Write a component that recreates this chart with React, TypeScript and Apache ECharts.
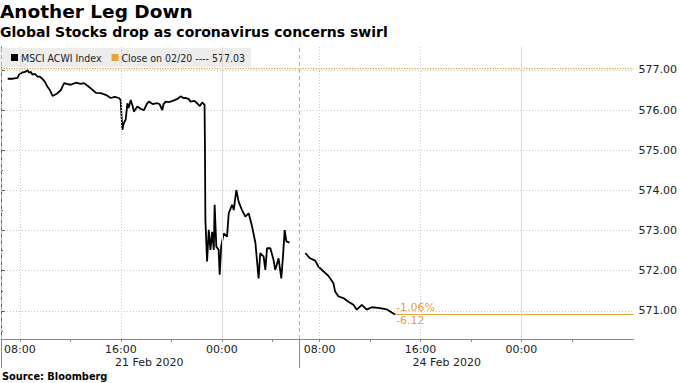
import React, { useEffect, useRef } from "react";
import * as echarts from "echarts";

const TITLE = "Another Leg Down";
const SUBTITLE = "Global Stocks drop as coronavirus concerns swirl";
const SOURCE = "Source: Bloomberg";
const SERIES_NAME = "MSCI ACWI Index";
const PREV_CLOSE = 577.03;
const CLOSE_NAME = "Close on 02/20 ---- 577.03";

// Session 1: 21 Feb 2020 (continues past midnight)
const s1Times = [
  "02-21 07:02", "02-21 07:27", "02-21 07:49", "02-21 07:55", "02-21 08:10", "02-21 08:24",
  "02-21 08:37", "02-21 08:43", "02-21 08:52", "02-21 09:00", "02-21 09:11", "02-21 09:24",
  "02-21 09:35", "02-21 09:48", "02-21 09:59", "02-21 10:11", "02-21 10:22", "02-21 10:35",
  "02-21 10:46", "02-21 10:59", "02-21 11:15", "02-21 11:24", "02-21 11:30", "02-21 11:43",
  "02-21 12:02", "02-21 12:26", "02-21 12:49", "02-21 13:05", "02-21 13:23", "02-21 13:37",
  "02-21 14:01", "02-21 14:24", "02-21 14:48", "02-21 15:12", "02-21 15:31", "02-21 15:51",
  "02-21 15:59", "02-21 16:07", "02-21 16:13", "02-21 16:23", "02-21 16:31", "02-21 16:37",
  "02-21 16:47", "02-21 16:56", "02-21 17:02", "02-21 17:18", "02-21 17:34", "02-21 17:50",
  "02-21 18:03", "02-21 18:13", "02-21 18:31", "02-21 18:53", "02-21 19:04", "02-21 19:17",
  "02-21 19:23", "02-21 19:33", "02-21 19:52", "02-21 20:12", "02-21 20:30", "02-21 20:44",
  "02-21 20:58", "02-21 21:08", "02-21 21:22", "02-21 21:31", "02-21 21:50", "02-21 22:03",
  "02-21 22:15", "02-21 22:27", "02-21 22:38", "02-21 22:40", "02-21 22:42", "02-21 22:50",
  "02-21 22:58", "02-21 23:06", "02-21 23:14", "02-21 23:22", "02-21 23:26", "02-21 23:34",
  "02-21 23:45", "02-21 23:50", "02-21 23:57", "02-22 00:09", "02-22 00:25", "02-22 00:33",
  "02-22 00:49", "02-22 00:57", "02-22 01:09", "02-22 01:20", "02-22 01:36", "02-22 01:52",
  "02-22 02:08", "02-22 02:24", "02-22 02:40", "02-22 02:55", "02-22 03:03", "02-22 03:19",
  "02-22 03:27", "02-22 03:35", "02-22 03:51", "02-22 04:06", "02-22 04:14", "02-22 04:30",
  "02-22 04:43", "02-22 04:51", "02-22 04:59", "02-22 05:07", "02-22 05:22",
];
const s1Values = [
  576.78, 576.78, 576.8, 576.88, 576.93, 576.95,
  576.99, 576.93, 576.95, 576.88, 576.9, 576.83,
  576.83, 576.77, 576.7, 576.58, 576.5, 576.35,
  576.38, 576.42, 576.5, 576.6, 576.67, 576.65,
  576.63, 576.68, 576.65, 576.67, 576.6, 576.54,
  576.43, 576.42, 576.38, 576.3, 576.33, 576.3,
  576.25, 575.51, 575.66, 575.76, 576.17, 576.05,
  576.25, 576.1, 575.96, 576.09, 576.03, 576.0,
  576.15, 576.21, 576.15, 576.17, 576.15, 576.0,
  576.15, 576.21, 576.2, 576.24, 576.28, 576.34,
  576.3, 576.3, 576.28, 576.21, 576.23, 576.17,
  576.1, 576.19, 576.13, 575.01, 573.27, 572.23,
  573.02, 572.52, 572.97, 572.52, 573.64, 572.6,
  572.52, 571.9, 572.6, 572.93, 572.85, 573.43,
  573.64, 573.51, 574.01, 573.72, 573.51, 573.35,
  573.43, 573.1, 572.69, 571.81, 572.44, 572.35,
  572.02, 572.56, 572.56, 572.27, 572.02, 572.31,
  571.81, 572.35, 573.01, 572.73, 572.7,
];

// Session 2: 24 Feb 2020
const s2Times = [
  "02-24 06:52", "02-24 07:15", "02-24 07:39", "02-24 07:55", "02-24 08:19", "02-24 08:42",
  "02-24 08:50", "02-24 09:06", "02-24 09:14", "02-24 09:30", "02-24 09:53", "02-24 10:17",
  "02-24 10:41", "02-24 10:57", "02-24 11:21", "02-24 11:44", "02-24 12:08", "02-24 12:48",
  "02-24 13:19", "02-24 13:43", "02-24 13:59",
];
const s2Values = [
  572.44, 572.31, 572.25, 572.1, 571.98, 571.87,
  571.81, 571.69, 571.48, 571.36, 571.32, 571.23,
  571.15, 571.03, 571.15, 571.03, 571.09, 571.07,
  571.04, 570.96, 570.91,
];

const yLabelValues = [571, 572, 573, 574, 575, 576, 577];
const yMinorValues = [570.5, 571.5, 572.5, 573.5, 574.5, 575.5, 576.5, 577.5];
const Y_MIN = 570.3;
const Y_MAX = 577.57;

const xLabelTimes = ["02-21 08:00", "02-21 16:00", "02-22 00:00", "02-24 08:00", "02-24 16:00", "02-25 00:00"];
const xLabelTexts = ["08:00", "16:00", "00:00", "08:00", "16:00", "00:00"];
const xTickTimes = [
  "02-21 08:00", "02-21 12:00", "02-21 16:00", "02-21 20:00", "02-22 00:00", "02-22 04:00",
  "02-24 08:00", "02-24 12:00", "02-24 16:00", "02-24 20:00", "02-25 00:00", "02-25 04:00",
];
const dateLabelTimes = ["02-21 18:15", "02-24 18:05"];
const dateLabelTexts = ["21 Feb 2020", "24 Feb 2020"];
const dottedGridTimes = ["02-21 08:00", "02-21 16:00", "02-24 08:00", "02-24 16:00"];
const midnightGridTimes = ["02-22 00:00", "02-25 00:00"];
const sessionStartTimes = ["02-21 06:30", "02-24 06:21"];
const AXIS_END = "02-25 08:53";

// trading-time axis: weekend removed
const S1_START = Date.UTC(2020, 1, 21, 6, 30);
const S1_END = Date.UTC(2020, 1, 22, 6, 6);
const S2_START = Date.UTC(2020, 1, 24, 6, 21);
const H = 3600e3;
function toAxis(t: string): number {
  const [md, hm] = t.split(" ");
  const [mo, d] = md.split("-").map(Number);
  const [h, m] = hm.split(":").map(Number);
  const ms = Date.UTC(2020, mo - 1, d, h, m);
  if (ms < Date.UTC(2020, 1, 23)) return (ms - S1_START) / H;
  return (S1_END - S1_START) / H + (ms - S2_START) / H;
}

const FONT = "DejaVu Sans";
const LEGEND_FONT = "'DejaVu Sans Condensed', 'Liberation Sans Narrow', 'DejaVu Sans'";
const ORANGE = "#e6a23c";

export default function App() {
  const ref = useRef<HTMLDivElement>(null);
  useEffect(() => {
    if (!ref.current) return;
    const chart = echarts.init(ref.current, undefined, { renderer: "svg" });
    const xMax = toAxis(AXIS_END);
    const lastV = s2Values[s2Values.length - 1];
    const lastT = toAxis(s2Times[s2Times.length - 1]);
    const chg = lastV - PREV_CLOSE;
    const pct = (chg / PREV_CLOSE) * 100;

    const mainData: any[] = [];
    s1Times.forEach((t, i) => mainData.push([toAxis(t), s1Values[i]]));
    mainData.push([toAxis(s1Times[s1Times.length - 1]) + 0.5, "-"]);
    s2Times.forEach((t, i) => mainData.push([toAxis(t), s2Values[i]]));

    const labelVals = xLabelTimes.map(toAxis);
    const dateVals = dateLabelTimes.map(toAxis);
    const near = (arr: number[], v: number) => arr.findIndex((a) => Math.abs(a - v) < 1e-6);

    const vLines: any[] = [];
    dottedGridTimes.forEach((t) =>
      vLines.push({ xAxis: toAxis(t), lineStyle: { type: [1, 2], color: "#c8c8c8", width: 1 } })
    );
    midnightGridTimes.forEach((t) =>
      vLines.push({ xAxis: toAxis(t), lineStyle: { type: "solid", color: "#dcdcdc", width: 1 } })
    );
    sessionStartTimes.forEach((t) =>
      vLines.push({ xAxis: toAxis(t), lineStyle: { type: [4, 3], color: "#b0b0b0", width: 1 } })
    );

    chart.setOption({
      animation: false,
      backgroundColor: "#fff",
      textStyle: { fontFamily: FONT },
      title: [
        { text: TITLE, left: 0, top: 2, padding: 0, textStyle: { fontFamily: FONT, fontWeight: "bold", fontSize: 18.5, color: "#000" } },
        { text: SUBTITLE, left: 0, top: 25, padding: 0, textStyle: { fontFamily: FONT, fontWeight: "bold", fontSize: 14, color: "#000" } },
        { text: SOURCE, left: 2, top: 371, padding: 0, textStyle: { fontFamily: FONT, fontWeight: "bold", fontSize: 9.8, color: "#000" } },
      ],
      legend: {
        left: 0,
        top: 48,
        padding: [4, 6, 4, 11],
        backgroundColor: "#ededed",
        itemGap: 10,
        itemWidth: 7,
        itemHeight: 7,
        icon: "rect",
        selectedMode: false,
        textStyle: { fontFamily: LEGEND_FONT, fontSize: 10.5, color: "#222", padding: [0, 0, 0, -2] },
        data: [
          { name: SERIES_NAME, itemStyle: { color: "#000" } },
          { name: CLOSE_NAME, itemStyle: { color: "#f0a030" } },
        ],
      },
      graphic: [
        { type: "circle", shape: { cx: 6, cy: 55.5, r: 1.6 }, style: { fill: "none", stroke: "#999", lineWidth: 1 } },
        { type: "line", shape: { x1: 6, y1: 57, x2: 6, y2: 62 }, style: { stroke: "#999", lineWidth: 1 } },
      ],
      grid: { left: 1, right: 46, top: 47, bottom: 44 },
      xAxis: [
        {
          type: "value",
          min: 0,
          max: xMax,
          position: "bottom",
          axisLine: { show: true, lineStyle: { color: "#8a8a8a", width: 1 } },
          axisTick: { show: true, customValues: xTickTimes.map(toAxis), length: 3, lineStyle: { color: "#8a8a8a" } },
          axisLabel: {
            customValues: labelVals,
            formatter: (v: number) => xLabelTexts[near(labelVals, v)] ?? "",
            margin: 5,
            fontSize: 11,
            fontFamily: FONT,
            color: "#222",
          },
          splitLine: { show: false },
        },
        {
          type: "value",
          min: 0,
          max: xMax,
          position: "bottom",
          axisLine: { show: false },
          axisTick: { show: true, customValues: sessionStartTimes.map(toAxis), length: 29, lineStyle: { color: "#8a8a8a" } },
          axisLabel: {
            customValues: dateVals,
            formatter: (v: number) => dateLabelTexts[near(dateVals, v)] ?? "",
            margin: 18,
            fontSize: 11,
            fontFamily: FONT,
            color: "#222",
          },
          splitLine: { show: false },
        },
      ],
      yAxis: [
        {
          type: "value",
          position: "right",
          min: Y_MIN,
          max: Y_MAX,
          axisLine: { show: true, lineStyle: { color: "#666", width: 1 } },
          axisTick: { show: true, customValues: yLabelValues, length: 4, lineStyle: { color: "#666" } },
          axisLabel: {
            customValues: yLabelValues,
            formatter: (v: number) => v.toFixed(2),
            margin: 5,
            fontSize: 11,
            fontFamily: FONT,
            color: "#222",
          },
          splitLine: { show: true, lineStyle: { type: [1, 2], color: "#c8c8c8", width: 1 } },
        },
        {
          type: "value",
          position: "right",
          min: Y_MIN,
          max: Y_MAX,
          axisLine: { show: false },
          axisTick: { show: true, customValues: yMinorValues, length: 2, lineStyle: { color: "#666" } },
          axisLabel: { show: false },
          splitLine: { show: false },
        },
      ],
      series: [
        {
          name: CLOSE_NAME,
          type: "line",
          data: [[0, PREV_CLOSE], [xMax, PREV_CLOSE]],
          showSymbol: false,
          symbol: "none",
          itemStyle: { color: "#f0a030" },
          lineStyle: { color: "#d9a54a", width: 1.3, type: [1.3, 1.3] },
          silent: true,
          z: 3,
        },
        {
          name: "last",
          type: "line",
          data: [[lastT, lastV], [xMax, lastV]],
          showSymbol: false,
          symbol: "none",
          lineStyle: { color: ORANGE, width: 1 },
          silent: true,
          z: 3,
        },
        {
          name: SERIES_NAME,
          type: "line",
          data: mainData,
          showSymbol: false,
          symbol: "none",
          connectNulls: false,
          itemStyle: { color: "#000" },
          lineStyle: { color: "#000", width: 1.8 },
          z: 4,
          endLabel: {
            show: true,
            distance: 1,
            formatter: () => `{a|${pct.toFixed(2)}%}\n{b|${chg.toFixed(2)}}`,
            rich: {
              a: { color: ORANGE, fontSize: 11, fontFamily: FONT, lineHeight: 13 },
              b: { color: ORANGE, fontSize: 11, fontFamily: FONT, lineHeight: 13 },
            },
          },
          markLine: {
            silent: true,
            symbol: "none",
            label: { show: false },
            data: vLines,
          },
        },
      ],
    });
    return () => chart.dispose();
  }, []);
  return <div ref={ref} style={{ position: "fixed", left: 0, top: 0, width: 680, height: 383 }} />;
}
